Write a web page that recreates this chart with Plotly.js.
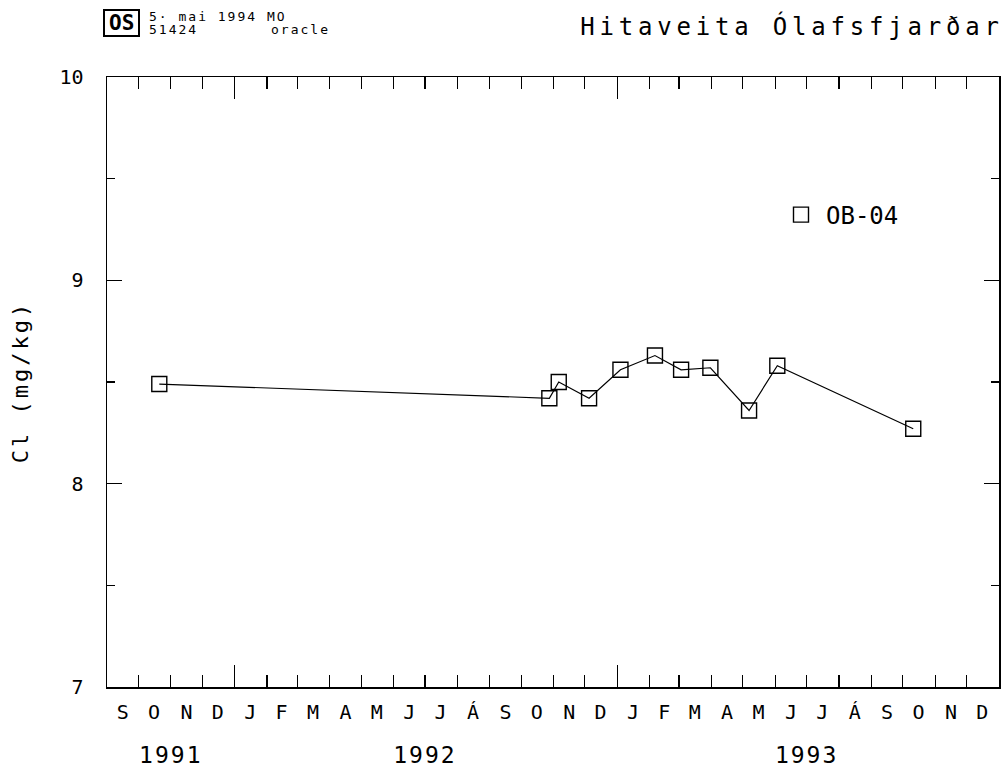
<!DOCTYPE html>
<html>
<head>
<meta charset="utf-8">
<script src="https://cdn.plot.ly/plotly-3.0.1.min.js"></script>
<style>
  html, body { margin: 0; padding: 0; background: #fff; }
  #chart { width: 1007px; height: 769px; }
</style>
</head>
<body>
<div id="chart"></div>
<script>
// ---- data ----
const sampleDates = ['1991-10-21','1992-10-28','1992-11-06','1992-12-05','1993-01-04','1993-02-06','1993-03-03','1993-03-31','1993-05-07','1993-06-03','1993-10-11'];
const chloride = [8.49, 8.42, 8.50, 8.42, 8.56, 8.63, 8.56, 8.57, 8.36, 8.58, 8.27];
const seriesName = 'OB-04';

const monthMids = ['1991-09-16','1991-10-16','1991-11-16','1991-12-16',
  '1992-01-16','1992-02-15','1992-03-16','1992-04-16','1992-05-16','1992-06-16','1992-07-16','1992-08-16','1992-09-16','1992-10-16','1992-11-16','1992-12-16',
  '1993-01-16','1993-02-15','1993-03-16','1993-04-16','1993-05-16','1993-06-16','1993-07-16','1993-08-16','1993-09-16','1993-10-16','1993-11-16','1993-12-16'];
const monthLetters = ['S','O','N','D','J','F','M','A','M','J','J','Á','S','O','N','D','J','F','M','A','M','J','J','Á','S','O','N','D'];
const yearPositions = ['1991-11-01','1992-07-01','1993-07-01'];
const yearLabels = ['1991','1992','1993'];

const titleText = 'Hitaveita Ólafsfjarðar';
const yTitleText = 'Cl (mg/kg)';
const headerLine1 = '5· mai 1994 MO';
const headerCode = '51424';
const headerUser = 'oracle';
const logoText = 'OS';

// ---- layout helpers (pixel -> paper) ----
const W = 1007, H = 769;
const M = {l: 107, r: 8, t: 77, b: 82};
const PW = W - M.l - M.r, PH = H - M.t - M.b;
const px = x => (x - M.l) / PW;
const py = y => (H - M.b - y) / PH;

const mono = 'DejaVu Sans Mono, Liberation Mono, monospace';
const xRange = ['1991-09-01', '1994-01-01'];

const traces = [
  {
    x: sampleDates, y: chloride, type: 'scatter', mode: 'lines',
    line: {color: '#000', width: 1.2}, showlegend: false, hoverinfo: 'skip'
  },
  {
    x: sampleDates, y: chloride, type: 'scatter', mode: 'markers', name: seriesName,
    marker: {symbol: 'square-open', size: 15, color: '#000', line: {width: 1.4, color: '#000'}}
  },
  // invisible helpers to activate the label axes
  {x: xRange, y: [null, null], xaxis: 'x2', yaxis: 'y', showlegend: false, hoverinfo: 'skip', mode: 'lines'},
  {x: xRange, y: [null, null], xaxis: 'x3', yaxis: 'y', showlegend: false, hoverinfo: 'skip', mode: 'lines'}
];

const layout = {
  width: W, height: H,
  margin: M,
  paper_bgcolor: '#fff', plot_bgcolor: '#fff',
  font: {family: mono, color: '#000'},
  showlegend: true,
  legend: {
    x: px(776), y: py(215), xanchor: 'left', yanchor: 'middle',
    font: {family: mono, size: 24, color: '#000'},
    bgcolor: 'rgba(0,0,0,0)', borderwidth: 0, itemwidth: 40
  },
  title: {
    text: titleText, xref: 'container', yref: 'container',
    x: 792 / W, xanchor: 'center', y: 1 - 27 / H, yanchor: 'middle',
    font: {family: mono, size: 24, color: '#000'}
  },
  xaxis: {
    type: 'date', range: xRange, showgrid: false, zeroline: false,
    showline: true, linecolor: '#000', linewidth: 1.5, mirror: 'ticks',
    ticks: 'inside', tick0: '1992-01-01', dtick: 'M12', ticklen: 22, tickwidth: 1.2, tickcolor: '#000',
    showticklabels: false,
    minor: {ticks: 'inside', tick0: '1991-09-01', dtick: 'M1', ticklen: 12, tickwidth: 1.2, tickcolor: '#000', showgrid: false}
  },
  xaxis2: {
    type: 'date', range: xRange, overlaying: 'x', anchor: 'y', side: 'bottom',
    showgrid: false, zeroline: false, showline: false, ticks: '',
    tickmode: 'array', tickvals: monthMids, ticktext: monthLetters,
    tickfont: {family: mono, size: 20, color: '#000'}, ticklabelstandoff: 11
  },
  xaxis3: {
    type: 'date', range: xRange, overlaying: 'x', anchor: 'y', side: 'bottom',
    showgrid: false, zeroline: false, showline: false, ticks: '',
    tickmode: 'array', tickvals: yearPositions, ticktext: yearLabels,
    tickfont: {family: mono, size: 23, color: '#000'}, ticklabelstandoff: 52
  },
  yaxis: {
    range: [7, 10], dtick: 1, tick0: 7, showgrid: false, zeroline: false,
    showline: true, linecolor: '#000', linewidth: 1.5, mirror: 'ticks',
    ticks: 'inside', ticklen: 15, tickwidth: 1.2, tickcolor: '#000',
    tickfont: {family: mono, size: 20, color: '#000'}, ticklabelstandoff: 18,
    minor: {ticks: 'inside', dtick: 0.5, ticklen: 8, tickwidth: 1.2, tickcolor: '#000', showgrid: false},
    title: {text: yTitleText, font: {family: mono, size: 22, color: '#000'}, standoff: 24}
  },
  shapes: [
    {type: 'rect', xref: 'paper', yref: 'paper', x0: px(104), x1: px(139), y0: py(36), y1: py(10),
     line: {color: '#000', width: 2}}
  ],
  annotations: [
    {text: logoText, xref: 'paper', yref: 'paper', x: px(121.5), y: py(23), xanchor: 'center', yanchor: 'middle',
     showarrow: false, font: {family: mono, size: 21, color: '#000', weight: 'bold'}},
    {text: headerLine1, xref: 'paper', yref: 'paper', x: px(218), y: py(17), xanchor: 'center', yanchor: 'middle',
     showarrow: false, font: {family: mono, size: 13, color: '#000'}},
    {text: headerCode, xref: 'paper', yref: 'paper', x: px(173), y: py(29.5), xanchor: 'center', yanchor: 'middle',
     showarrow: false, font: {family: mono, size: 13, color: '#000'}},
    {text: headerUser, xref: 'paper', yref: 'paper', x: px(300), y: py(29.5), xanchor: 'center', yanchor: 'middle',
     showarrow: false, font: {family: mono, size: 13, color: '#000'}}
  ]
};

Plotly.newPlot('chart', traces, layout, {staticPlot: true, displayModeBar: false}).then(gd => {
  const spacing = {};
  spacing[titleText] = '4.8px';
  spacing[yTitleText] = '3px';
  spacing[headerLine1] = '2px';
  spacing[headerCode] = '2px';
  spacing[headerUser] = '2px';
  yearLabels.forEach(t => spacing[t] = '2px');
  gd.querySelectorAll('text').forEach(el => {
    const s = spacing[el.textContent];
    if (s) el.style.letterSpacing = s;
  });
});
</script>
</body>
</html>
